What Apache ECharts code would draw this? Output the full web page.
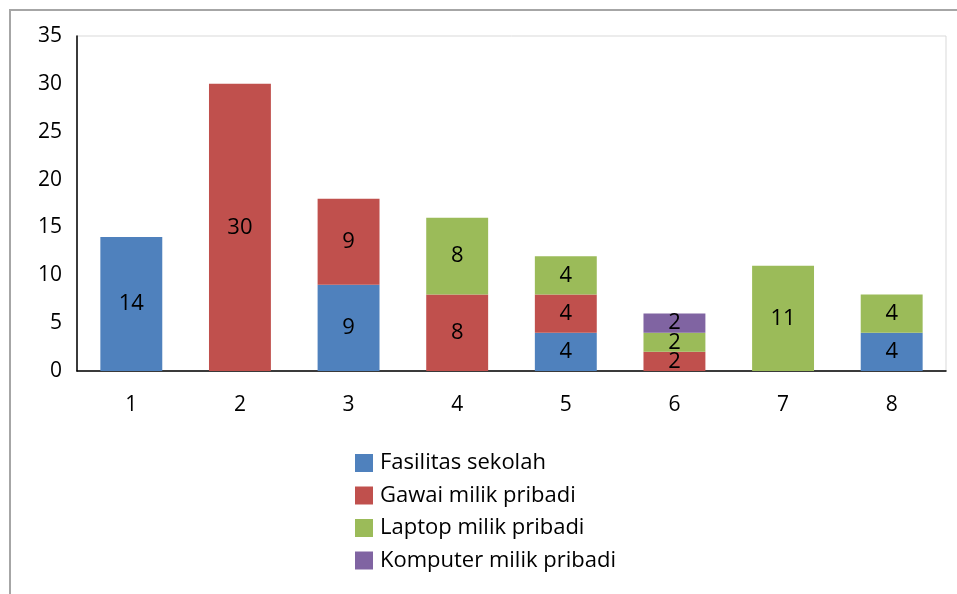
<!DOCTYPE html>
<html>
<head>
<meta charset="utf-8">
<script src="https://cdn.jsdelivr.net/npm/echarts@6/dist/echarts.min.js"></script>
<style>
  html, body { margin: 0; padding: 0; background: #fff; }
  #chart { width: 957px; height: 594px; }
</style>
</head>
<body>
<div id="chart"></div>
<script>
const categories = ['1', '2', '3', '4', '5', '6', '7', '8']
const seriesNames = ['Fasilitas sekolah', 'Gawai milik pribadi', 'Laptop milik pribadi', 'Komputer milik pribadi']
const fasilitas = [14, 0, 9, 0, 4, 0, 0, 4]
const gawai = [0, 30, 9, 8, 4, 2, 0, 0]
const laptop = [0, 0, 0, 8, 4, 2, 11, 4]
const komputer = [0, 0, 0, 0, 0, 2, 0, 0]
const colors = ['#4F81BD', '#C0504D', '#9BBB59', '#8064A2']

const fontFamily = '"Open Sans", "Liberation Sans", sans-serif'

const chart = echarts.init(document.getElementById('chart'))

const makeSeries = (name, data, idx) => ({
  name: name,
  type: 'bar',
  stack: 'total',
  data: data,
  barWidth: '57%',
  itemStyle: { color: colors[idx] },
  label: {
    show: true,
    position: 'inside',
    color: '#000',
    fontSize: 22,
    fontFamily: fontFamily,
    formatter: p => (p.value ? p.value : '')
  }
})

const option = {
  animation: false,
  textStyle: { fontFamily: fontFamily },
  graphic: [
    // outer frame (left and top edges only)
    {
      type: 'polyline',
      shape: { points: [[10, 594], [10, 10], [957, 10]] },
      style: { stroke: '#a6a6a6', lineWidth: 2, fill: null }
    }
  ],
  grid: {
    left: 77,
    right: 11,
    top: 36,
    bottom: 223,
    show: true,
    borderColor: '#d9d9d9',
    borderWidth: 1
  },
  legend: {
    orient: 'vertical',
    left: 355,
    top: 452,
    padding: 0,
    icon: 'rect',
    itemWidth: 18,
    itemHeight: 18,
    itemGap: 10.5,
    data: seriesNames,
    textStyle: { fontSize: 22, color: '#000', fontFamily: fontFamily, padding: [0, 0, 0, 2] }
  },
  xAxis: {
    type: 'category',
    data: categories,
    axisLine: { lineStyle: { color: '#000', width: 1.5 } },
    axisTick: { show: false },
    axisLabel: { color: '#000', fontSize: 21, margin: 24, fontFamily: fontFamily }
  },
  yAxis: {
    type: 'value',
    min: 0,
    max: 35,
    interval: 5,
    axisLine: { show: true, lineStyle: { color: '#000', width: 1.5 } },
    axisTick: { show: false },
    splitLine: { show: false },
    axisLabel: { color: '#000', fontSize: 21, margin: 15, fontFamily: fontFamily }
  },
  series: [
    makeSeries(seriesNames[0], fasilitas, 0),
    makeSeries(seriesNames[1], gawai, 1),
    makeSeries(seriesNames[2], laptop, 2),
    makeSeries(seriesNames[3], komputer, 3)
  ]
}

chart.setOption(option)
</script>
</body>
</html>
